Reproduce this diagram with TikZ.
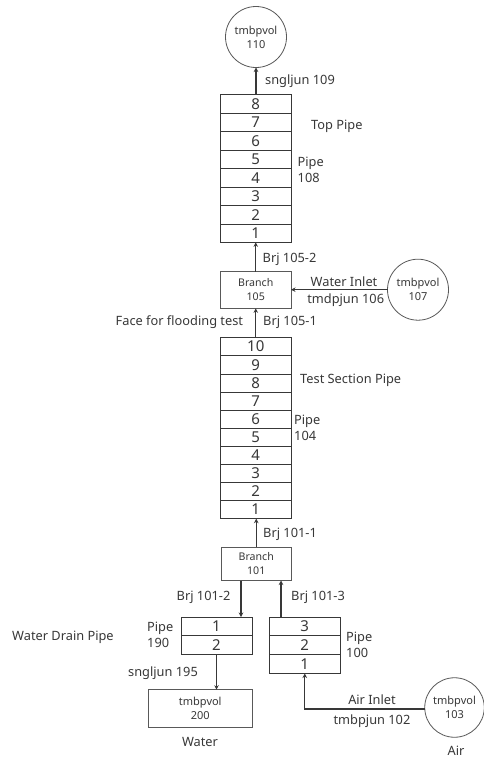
\documentclass[tikz,border=0pt]{standalone}
\usepackage{fontspec}
\setmainfont{Noto Sans}
\usetikzlibrary{arrows.meta}
\definecolor{ink}{gray}{0.22}
\definecolor{edge}{gray}{0.35}
\tikzset{
  cell/.style={draw=ink,line width=0.9pt,inner sep=0pt,outer sep=0pt,text=ink,font=\fontsize{15}{15}\selectfont},
  boxn/.style={draw=edge,line width=0.8pt,inner sep=0pt,outer sep=0pt,align=center,text=ink,font=\fontsize{10.6}{14}\selectfont},
  vol/.style={circle,draw=edge,line width=0.8pt,inner sep=0pt,outer sep=0pt,minimum size=61pt,align=center,text=ink,font=\fontsize{11}{14}\selectfont},
  lab/.style={inner sep=0pt,text=ink,font=\fontsize{12.8}{16}\selectfont,anchor=west},
  labc/.style={inner sep=0pt,text=ink,font=\fontsize{12.8}{16}\selectfont},
  stack/.style={inner sep=0pt,text=ink,font=\fontsize{12.8}{16}\selectfont,align=left,anchor=west},
  conn/.style={draw=ink,line width=1.1pt,-{Stealth[length=4.5pt,width=4.5pt]}}
}
\begin{document}
\begin{tikzpicture}[x=1pt,y=-1pt]
\useasboundingbox[fill=white] (0,0) rectangle (484,758);
% Top pipe 108
\foreach \t/\a/\b in {8/94.3/113,7/113/131.7,6/131.7/150,5/150/168.7,4/168.7/187,3/187/205.7,2/205.7/224.3,1/224.3/242.3}
  \node[cell,minimum width=70.5pt,minimum height={(\b-\a)*1pt}] (ta\t) at (255.75,{(\a+\b)/2}) {\t};
% Test section pipe 104
\foreach \t/\a/\b in {10/337.3/355.7,9/355.7/374,8/374/392.7,7/392.7/410,6/410/428.3,5/428.3/446,4/446/464.3,3/464.3/482.3,2/482.3/500.3,1/500.3/518.7}
  \node[cell,minimum width=70.5pt,minimum height={(\b-\a)*1pt}] (te\t) at (255.75,{(\a+\b)/2}) {\t};
% Drain pipe 190
\foreach \t/\a/\b in {1/617/635.7,2/635.7/654.7}
  \node[cell,minimum width=71pt,minimum height={(\b-\a)*1pt}] (dr\t) at (216.5,{(\a+\b)/2}) {\t};
% Air pipe 100
\foreach \t/\a/\b in {3/617/635.3,2/635.3/654.3,1/654.3/673.5}
  \node[cell,minimum width=70.5pt,minimum height={(\b-\a)*1pt}] (ai\t) at (304.75,{(\a+\b)/2}) {\t};
% Branches and volumes
\node[boxn,minimum width=70.5pt,minimum height=36.6pt] (br105) at (255.75,290) {Branch\\105};
\node[boxn,minimum width=70.5pt,minimum height=33.2pt] (br101) at (256.25,563.9) {Branch\\101};
\node[boxn,minimum width=103.5pt,minimum height=37.8pt,font=\fontsize{11}{14}\selectfont] (v200) at (200.25,708.6) {tmbpvol\\200};
\node[vol] (v110) at (256,37) {tmbpvol\\110};
\node[vol] (v107) at (418,289.7) {tmbpvol\\107};
\node[vol,minimum size=59.5pt] (v103) at (454.5,707.5) {tmbpvol\\103};
% Connectors
\draw[conn] (ta8.north -| v110.south) -- (v110.south);
\draw[conn] (br105.north) -- (ta1.south);
\draw[conn] (v107.west) -- (br105.east |- v107.west);
\draw[conn] (te10.north) -- (br105.south);
\draw[conn] (br101.north) -- (te1.south -| br101.north);
\coordinate (b2) at (241,580.5);
\coordinate (b3) at (281,580.5);
\draw[conn] (b2) -- (dr1.north -| b2);
\draw[conn] (ai3.north -| b3) -- (b3);
\draw[conn] (dr2.south) -- (v200.north -| dr2.south);
\coordinate (aj) at (304.75,709);
\draw[conn] (v103.west |- aj) -- (aj) -- (ai1.south);
% Labels
\node[lab] (l1) at (265,81) {sngljun 109};
\node[lab] (l2) at (311,126) {Top Pipe};
\node[stack] (l3) at (297.5,170) {Pipe\\108};
\node[lab] (l4) at (262.5,259.5) {Brj 105-2};
\node[labc] (l5) at (344,282) {Water Inlet};
\node[labc] (l6) at (345.7,300) {tmdpjun 106};
\node[lab] (l7) at (115.5,322) {Face for flooding test};
\node[lab] (l8) at (263,322) {Brj 105-1};
\node[lab] (l9) at (300,380) {Test Section Pipe};
\node[stack] (l10) at (294,428) {Pipe\\104};
\node[lab] (l11) at (263,534) {Brj 101-1};
\node[lab] (l12) at (176.5,597.5) {Brj 101-2};
\node[lab] (l13) at (291,597.5) {Brj 101-3};
\node[stack] (l14) at (147,635) {Pipe\\190};
\node[lab] (l15) at (12,637) {Water Drain Pipe};
\node[lab] (l16) at (128,673) {sngljun 195};
\node[stack] (l17) at (346,645) {Pipe\\100};
\node[labc] (l18) at (372,700) {Air Inlet};
\node[labc] (l19) at (372,721) {tmbpjun 102};
\node[labc] (l20) at (200,742) {Water};
\node[labc] (l21) at (456,751) {Air};
\end{tikzpicture}
\end{document}
